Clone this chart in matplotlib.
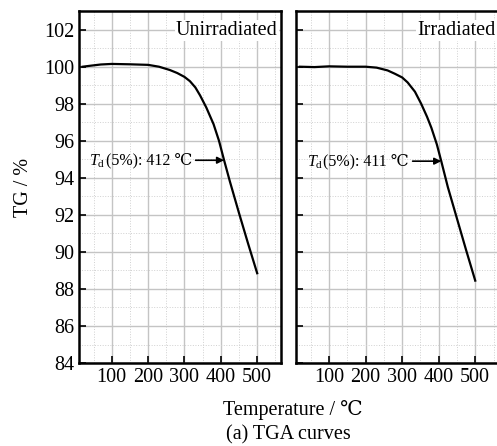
import matplotlib
matplotlib.use("Agg")
import matplotlib.pyplot as plt
from matplotlib.ticker import MultipleLocator

plt.rcParams['font.family'] = ['Liberation Serif', 'DejaVu Serif']
plt.rcParams['mathtext.fontset'] = 'custom'
plt.rcParams['mathtext.it'] = 'Liberation Serif:italic'
plt.rcParams['mathtext.rm'] = 'Liberation Serif'

# unirradiated curve (temperature, TG)
temp_un = [20, 40, 70, 100, 150, 200, 230, 260, 280, 300, 315, 330, 343, 360, 380, 395, 409, 425, 450, 475, 500]
tg_un = [100.0, 100.05, 100.12, 100.15, 100.13, 100.1, 100.0, 99.82, 99.66, 99.45, 99.22, 98.88, 98.45, 97.8, 96.9, 96.0, 94.95, 93.8, 92.1, 90.45, 88.85]

# irradiated curve
temp_ir = [20, 60, 100, 150, 200, 230, 260, 280, 300, 315, 335, 352, 368, 380, 395, 407, 425, 450, 475, 500]
tg_ir = [100.0, 99.98, 100.02, 100.0, 100.0, 99.95, 99.8, 99.62, 99.42, 99.15, 98.65, 98.0, 97.3, 96.7, 95.8, 94.9, 93.5, 91.8, 90.1, 88.45]

labels = ['Unirradiated', 'Irradiated']
td5 = [412, 411]
td5_y = [94.95, 94.9]
td5_x = [409, 407]

fig = plt.figure(figsize=(4.97, 4.46), dpi=100)
ax1 = fig.add_axes([0.159, 0.186, 0.406, 0.789])
ax2 = fig.add_axes([0.596, 0.186, 0.408, 0.789])

for ax, t, g, lab, td, tx, ty in zip([ax1, ax2], [temp_un, temp_ir], [tg_un, tg_ir],
                                     labels, td5, td5_x, td5_y):
    ax.set_xlim(10, 565)
    ax.set_ylim(84, 103)
    ax.xaxis.set_major_locator(MultipleLocator(100))
    ax.xaxis.set_minor_locator(MultipleLocator(50))
    ax.yaxis.set_major_locator(MultipleLocator(2))
    ax.yaxis.set_minor_locator(MultipleLocator(1))
    ax.set_xticks([100, 200, 300, 400, 500])
    ax.grid(which='major', color='#c4c4c4', linewidth=1.0)
    ax.grid(which='minor', color='#d0d0d0', linewidth=0.7, linestyle=':')
    ax.set_axisbelow(True)
    ax.tick_params(which='major', direction='in', length=5, width=1.2, labelsize=14.5,
                   top=False, right=False)
    ax.tick_params(which='minor', length=0)
    for s in ax.spines.values():
        s.set_linewidth(1.8)

    ax.plot(t, g, color='black', linewidth=1.6)

    ax.text(0.985, 0.945, lab, transform=ax.transAxes, ha='right', va='center',
            fontsize=14.5, bbox=dict(facecolor='white', edgecolor='none', pad=1))

    # arrow pointing at the 5% loss temperature
    ax.annotate('', xy=(tx, ty), xytext=(tx - 86, ty),
                arrowprops=dict(arrowstyle='-|>', color='black', lw=1.2,
                                shrinkA=2, shrinkB=0, mutation_scale=10))
    lbl = ax.text(tx - 88, ty, '(5%%): %d ℃' % td, fontsize=11.5, ha='right', va='center')
    ax.annotate('$T_\\mathrm{d}$', xy=(0, 0.5), xycoords=lbl, xytext=(0, -0.5),
                textcoords='offset points', fontsize=11.5, ha='right', va='center')

ax2.tick_params(labelleft=False)
ax1.set_ylabel('TG / %', fontsize=14.5, labelpad=8)

fig.text(0.59, 0.081, 'Temperature / ℃', ha='center', va='center', fontsize=14.5)
fig.text(0.58, 0.025, '(a) TGA curves', ha='center', va='center', fontsize=14.5)

fig.savefig('out.png', dpi=100)
